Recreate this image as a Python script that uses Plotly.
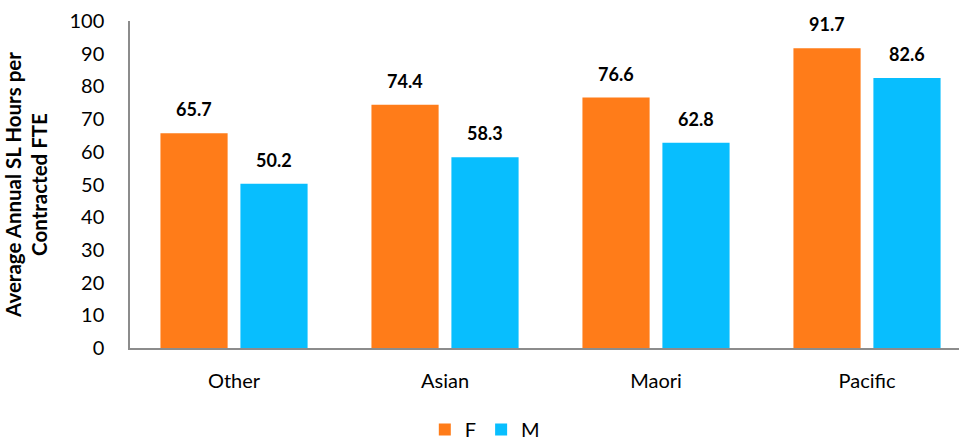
import plotly.graph_objects as go

categories = ["Other", "Asian", "Maori", "Pacific"]
female = [65.7, 74.4, 76.6, 91.7]
male = [50.2, 58.3, 62.8, 82.6]
y_ticks = [0, 10, 20, 30, 40, 50, 60, 70, 80, 90, 100]

ORANGE = "#FF7C19"
CYAN = "#08BEFE"
FONT = "Lato, 'Open Sans', sans-serif"

fig = go.Figure()
fig.add_trace(go.Bar(name="F", x=categories, y=female, marker_color=ORANGE,
                     marker_line_width=0))
fig.add_trace(go.Bar(name="M", x=categories, y=male, marker_color=CYAN,
                     marker_line_width=0))

# value labels above each bar
for cat, f, m in zip(categories, female, male):
    for val, shift in ((f, -40), (m, 40)):
        fig.add_annotation(x=cat, y=val, text=f"<b>{val:.1f}</b>", showarrow=False,
                           xshift=shift, yshift=11, yanchor="bottom",
                           font=dict(size=18, color="#000", family=FONT))

fig.update_layout(
    width=959, height=442,
    margin=dict(l=130, r=0, t=21, b=94, autoexpand=False),
    paper_bgcolor="white", plot_bgcolor="white",
    barmode="group", bargap=0.242, bargroupgap=0.16,
    font=dict(family=FONT, size=20, color="#000"),
    showlegend=True,
    legend=dict(orientation="h", x=0.428, xanchor="center", yref="container",
                y=0.028, yanchor="middle", font=dict(size=20), itemwidth=30,
                traceorder="normal"),
    xaxis=dict(range=[-0.493, 3.436], showline=True, linecolor="#8c8c8c", linewidth=1.5,
               ticks="", showgrid=False, tickfont=dict(size=20), ticklabelstandoff=14),
    yaxis=dict(range=[0, 100], tickvals=y_ticks, showline=True, linecolor="#8c8c8c",
               linewidth=1.5, ticks="", showgrid=False, zeroline=False,
               tickfont=dict(size=20), ticklabelstandoff=20,
               title=dict(text="<b>Average Annual SL Hours per<br>Contracted FTE</b>",
                          font=dict(size=20.5), standoff=16)),
)

fig.write_html("out.html")
